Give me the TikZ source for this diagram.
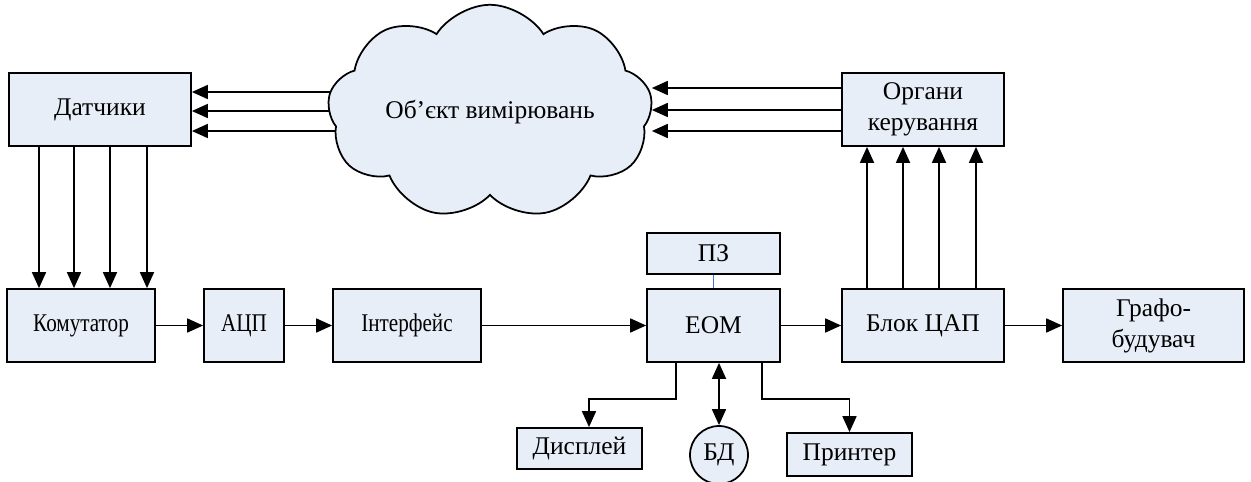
\documentclass[tikz,border=0pt]{standalone}
\usepackage{fontspec}
\setmainfont{Liberation Serif}
\newfontfamily\narrowserif[FakeStretch=0.83]{Liberation Serif}
\usetikzlibrary{positioning, arrows.meta, shapes.symbols, calc, backgrounds}
\definecolor{blockfill}{HTML}{E8EEF7}
\definecolor{linkblue}{HTML}{4472C4}

\begin{document}
\begin{tikzpicture}[
    every node/.style={font=\fontsize{14.5}{17.6}\selectfont},
    block/.style={draw, line width=1pt, fill=blockfill, minimum height=1.46cm, align=center, inner sep=1pt},
    narrowblock/.style={block, font=\fontsize{14.5}{17.6}\narrowserif},
    smallblock/.style={block, minimum height=0.82cm},
    link/.style={line width=1pt, -{Triangle[length=0.32cm, width=0.28cm]}},
    >={Triangle[length=0.32cm, width=0.28cm]},
  ]
  \useasboundingbox (0,0) rectangle (25.02,-9.64);

  % object and sensors / actuators
  \node[cloud, draw, line width=1pt, fill=blockfill, cloud puffs=9, cloud puff arc=115,
        aspect=1.75, minimum width=6.5cm, inner sep=0pt] (obj) at (9.80,-2.24) {Об’єкт вимірювань};
  \node[block, minimum width=3.64cm] (dat) at (2.00,-2.19) {Датчики};
  \node[block, minimum width=3.24cm] (org) at (18.46,-2.19) {Органи\\керування};

  % main chain
  \node[narrowblock, minimum width=2.96cm] (com) at (1.62,-6.51) {Комутатор};
  \node[narrowblock, minimum width=1.60cm] (adc) at (4.88,-6.51) {АЦП};
  \node[narrowblock, minimum width=2.96cm] (inter) at (8.14,-6.51) {Інтерфейс};
  \node[block, minimum width=2.66cm] (eom) at (14.27,-6.51) {ЕОМ};
  \node[block, minimum width=3.24cm] (cap) at (18.46,-6.51) {Блок ЦАП};
  \node[block, minimum width=3.62cm] (graph) at (23.07,-6.51) {Графо-\\будувач};

  % periphery
  \node[smallblock, minimum width=2.66cm] (pz) at (14.27,-5.07) {ПЗ};
  \node[smallblock, minimum width=2.50cm] (disp) at (11.59,-8.97) {Дисплей};
  \node[smallblock, minimum width=2.50cm, minimum height=0.86cm] (prn) at (16.99,-9.09) {Принтер};
  \node[circle, draw, line width=1pt, fill=blockfill, minimum size=1.16cm, inner sep=0pt] (db) at (14.38,-9.10) {БД};

  \begin{scope}[on background layer]
    \foreach \y in {-1.84,-2.22,-2.62}
      \draw[link] (obj.center |- 0,\y) -- (dat.east |- 0,\y);
  \end{scope}
  \foreach \y in {-1.76,-2.20,-2.62}
    \draw[link] (org.west |- 0,\y) -- (obj.east |- 0,\y);

  \foreach \x in {0.78,1.48,2.20,2.94}
    \draw[link] (dat.south -| \x,0) -- (com.north -| \x,0);
  \foreach \x in {17.34,18.06,18.78,19.52}
    \draw[link] (cap.north -| \x,0) -- (org.south -| \x,0);

  \draw[link] (com) -- (adc);
  \draw[link] (adc) -- (inter);
  \draw[link] (inter) -- (eom);
  \draw[link] (eom) -- (cap);
  \draw[link] (cap) -- (graph);

  \draw[linkblue, line width=0.4pt] (pz) -- (eom);
  \draw[link] ([xshift=-0.75cm]eom.south) -- ++(0,-0.72) -| ([xshift=0.19cm]disp.north);
  \draw[link] ([xshift=0.97cm]eom.south) -- ++(0,-0.72) -| (prn.north);
  \draw[line width=1pt, <->] (eom.south -| db.north) -- (db.north);
\end{tikzpicture}
\end{document}
